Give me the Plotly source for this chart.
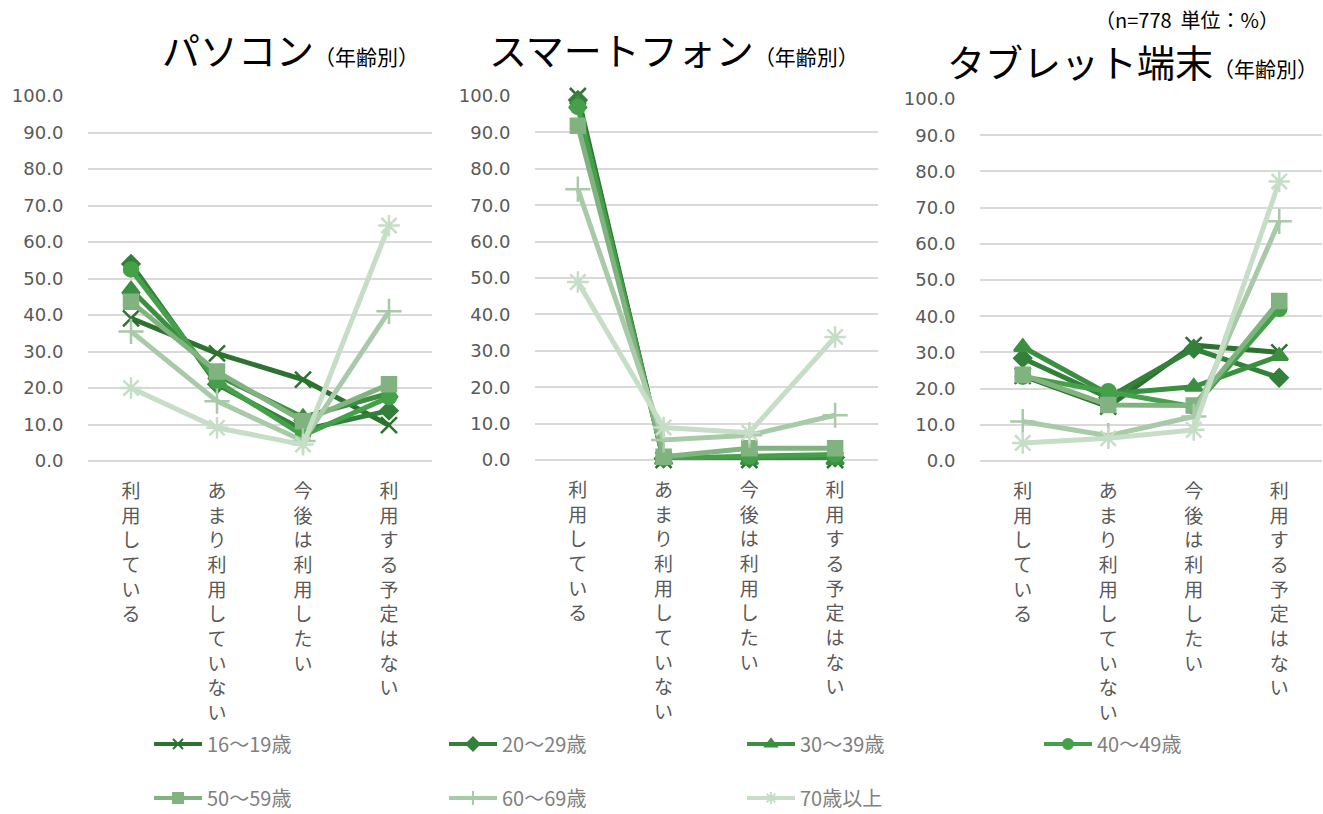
import plotly.graph_objects as go
from plotly.subplots import make_subplots

# Response categories (x axis) and age groups (series)
categories = ["利用している", "あまり利用していない", "今後は利用したい", "利用する予定はない"]
age_groups = ["16～19歳", "20～29歳", "30～39歳", "40～49歳", "50～59歳", "60～69歳", "70歳以上"]
y_ticks = [0, 10, 20, 30, 40, 50, 60, 70, 80, 90, 100]

# パソコン (%)
pc_16_19 = [39.1, 29.5, 22.3, 9.8]
pc_20_29 = [54.0, 21.0, 8.5, 13.8]
pc_30_39 = [47.0, 23.5, 12.0, 18.5]
pc_40_49 = [52.5, 21.8, 7.0, 17.5]
pc_50_59 = [43.6, 24.5, 10.9, 21.0]
pc_60_69 = [35.5, 16.4, 5.5, 41.0]
pc_70_up = [20.0, 9.1, 4.5, 64.5]

# スマートフォン (%)
sp_16_19 = [100.0, 0.0, 0.0, 0.0]
sp_20_29 = [98.9, 0.4, 0.4, 0.7]
sp_30_39 = [97.7, 0.0, 0.0, 0.0]
sp_40_49 = [97.0, 0.5, 1.0, 1.5]
sp_50_59 = [91.8, 0.9, 3.2, 3.2]
sp_60_69 = [74.4, 5.5, 6.8, 12.3]
sp_70_up = [48.9, 8.9, 7.5, 33.8]

# タブレット端末 (%)
tb_16_19 = [23.5, 15.0, 32.0, 30.0]
tb_20_29 = [28.4, 17.5, 31.0, 23.0]
tb_30_39 = [31.5, 18.5, 20.5, 29.0]
tb_40_49 = [23.3, 19.3, 15.0, 42.0]
tb_50_59 = [23.8, 15.5, 15.3, 44.2]
tb_60_69 = [10.9, 7.0, 12.3, 66.2]
tb_70_up = [5.0, 6.3, 8.6, 77.2]

panels = [
    [pc_16_19, pc_20_29, pc_30_39, pc_40_49, pc_50_59, pc_60_69, pc_70_up],
    [sp_16_19, sp_20_29, sp_30_39, sp_40_49, sp_50_59, sp_60_69, sp_70_up],
    [tb_16_19, tb_20_29, tb_30_39, tb_40_49, tb_50_59, tb_60_69, tb_70_up],
]

colors = ["#2d7230", "#33803a", "#3b8f40", "#45a049", "#80b380", "#a8caa8", "#c6ddc6"]
symbols = ["x-thin-open", "diamond", "triangle-up", "circle", "square",
           "cross-thin-open", "asterisk-open"]
sizes = [16, 13, 15, 14, 14, 18, 18]

W, H = 1323, 814
JP = "Noto Sans CJK JP"
NUM = "DejaVu Sans, Noto Sans CJK JP"
GRAY = "#595959"

fig = make_subplots(rows=1, cols=3)

for p, series in enumerate(panels):
    for i, vals in enumerate(series):
        fig.add_trace(
            go.Scatter(
                x=list(range(len(categories))),
                y=vals,
                name=age_groups[i],
                mode="lines+markers",
                line=dict(color=colors[i], width=5),
                marker=dict(symbol=symbols[i], size=sizes[i], color=colors[i],
                            line=dict(color=colors[i], width=2.5)),
                legendgroup=age_groups[i],
                showlegend=False,
                cliponaxis=False,
            ),
            row=1, col=p + 1,
        )

# legend keys: one small legend per age group, laid out in a 4 x 2 grid
legend_pos = [(155, 744), (450, 744), (748, 744), (1045, 744),
              (155, 798), (450, 798), (748, 798)]
legend_layout = {}
for i, name in enumerate(age_groups):
    key = "legend" if i == 0 else f"legend{i + 1}"
    fig.add_trace(
        go.Scatter(
            x=[None], y=[None],
            name=name,
            mode="lines+markers",
            line=dict(color=colors[i], width=4),
            marker=dict(symbol=symbols[i], size=10, color=colors[i],
                        line=dict(color=colors[i], width=2)),
            legendgroup=name,
            showlegend=True,
            legend=key,
        ),
        row=1, col=1,
    )
    lx, ly = legend_pos[i]
    legend_layout[key] = dict(
        x=(lx - 6) / W, y=1 - ly / H,
        xanchor="left", yanchor="middle",
        orientation="h",
        itemwidth=48,
        font=dict(family=JP, size=20, color="#808080"),
        bgcolor="rgba(0,0,0,0)",
        itemclick=False, itemdoubleclick=False,
    )

# plot-area positions in pixels: (left, right, top, bottom)
areas = [(88, 432, 96, 461), (535, 878, 96, 460), (980, 1322, 99, 461)]
vertical = ["<br>".join(list(c)) for c in categories]

for k, (l, r, t, b) in enumerate(areas):
    sfx = "" if k == 0 else str(k + 1)
    fig.layout["xaxis" + sfx].update(
        domain=[l / W, r / W],
        range=[-0.5, 3.5],
        tickmode="array",
        tickvals=list(range(len(categories))),
        ticktext=vertical,
        ticks="outside", ticklen=13, tickcolor="rgba(0,0,0,0)",
        tickfont=dict(family=JP, size=19, color=GRAY),
        showgrid=False, zeroline=False, showline=False,
        fixedrange=True,
    )
    fig.layout["yaxis" + sfx].update(
        domain=[1 - b / H, 1 - t / H],
        range=[0, 100],
        tickmode="array",
        tickvals=y_ticks,
        tickformat=".1f",
        ticks="outside", ticklen=20, tickcolor="rgba(0,0,0,0)",
        tickfont=dict(family=NUM, size=18, color=GRAY),
        showgrid=True, gridcolor="#d9d9d9", gridwidth=2,
        zeroline=True, zerolinecolor="#d9d9d9", zerolinewidth=2,
        showline=False,
        fixedrange=True,
    )

titles = [
    ("パソコン", 160, 48),
    ("スマートフォン", 487, 48),
    ("タブレット端末", 945, 61),
]
for text, x, y in titles:
    fig.add_annotation(
        x=x / W, y=1 - y / H, xref="paper", yref="paper",
        xanchor="left", yanchor="middle", showarrow=False,
        text=f"<span style='font-size:38px'>{text}</span>"
             f"<span style='font-size:21px'>（年齢別）</span>",
        font=dict(family=JP, color="#000000", size=38),
    )

fig.add_annotation(
    x=1093 / W, y=1 - 20 / H, xref="paper", yref="paper",
    xanchor="left", yanchor="middle", showarrow=False,
    text="（n=778  単位：%）",
    font=dict(family=JP, color="#000000", size=20),
)

fig.update_layout(
    width=W, height=H,
    margin=dict(l=0, r=0, t=0, b=0, autoexpand=False),
    paper_bgcolor="#ffffff",
    plot_bgcolor="#ffffff",
    hovermode=False,
    **legend_layout,
)

fig.write_html("out.html")
